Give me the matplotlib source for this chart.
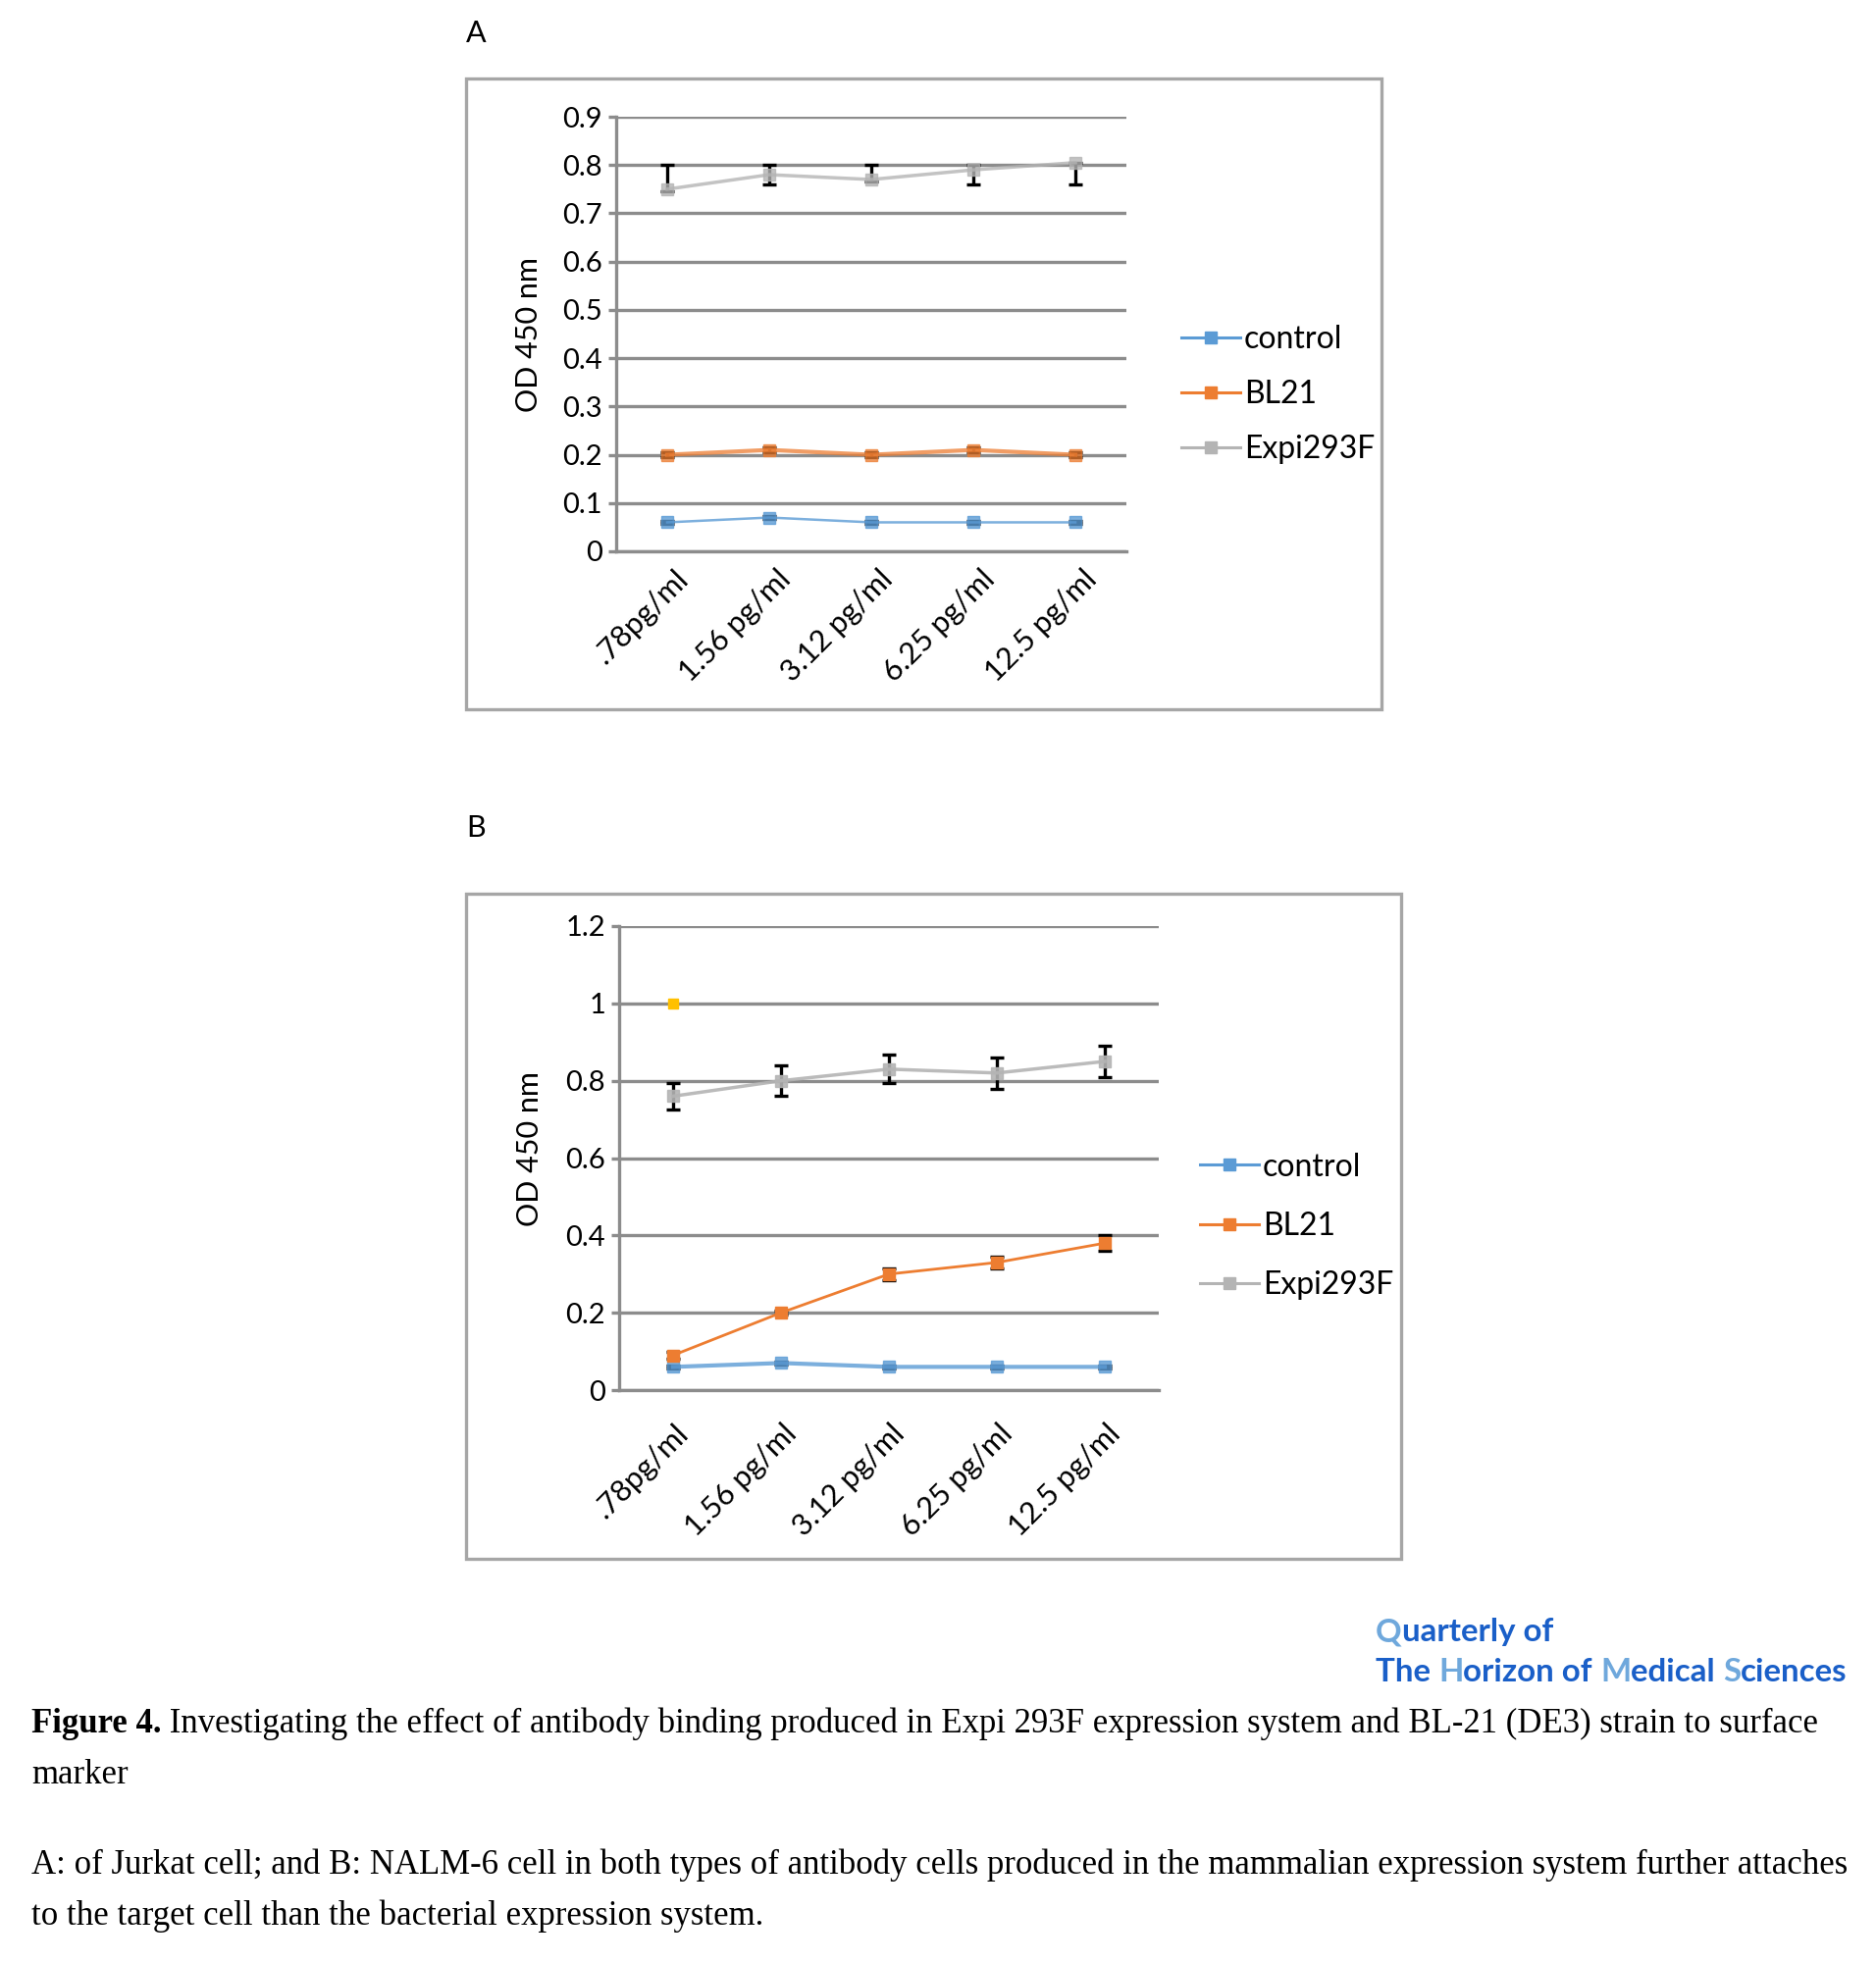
import matplotlib
matplotlib.use("Agg")
import matplotlib.pyplot as plt
from matplotlib.patches import Rectangle
from matplotlib.lines import Line2D
import matplotlib.transforms as mtransforms

# ---------------- data ----------------
categories = [".78pg/ml", "1.56 pg/ml", "3.12 pg/ml", "6.25 pg/ml", "12.5 pg/ml"]
series_names = ["control", "BL21", "Expi293F"]

# Panel A (Jurkat)
A_control = [0.06, 0.07, 0.06, 0.06, 0.06]
A_bl21 = [0.20, 0.21, 0.20, 0.21, 0.20]
A_expi = [0.75, 0.78, 0.77, 0.79, 0.805]
A_control_err = [0.003, 0.003, 0.003, 0.003, 0.003]
A_bl21_err = [0.005, 0.005, 0.005, 0.005, 0.005]
A_expi_err_low = [0.005, 0.02, 0.005, 0.03, 0.045]
A_expi_err_high = [0.05, 0.02, 0.03, 0.01, 0.0]
A_yticks = [0, 0.1, 0.2, 0.3, 0.4, 0.5, 0.6, 0.7, 0.8, 0.9]
A_yticklabels = ["0", "0.1", "0.2", "0.3", "0.4", "0.5", "0.6", "0.7", "0.8", "0.9"]

# Panel B (NALM-6)
B_control = [0.06, 0.07, 0.06, 0.06, 0.06]
B_bl21 = [0.09, 0.20, 0.30, 0.33, 0.38]
B_expi = [0.76, 0.80, 0.83, 0.82, 0.85]
B_control_err = [0.004, 0.004, 0.004, 0.004, 0.004]
B_bl21_err = [0.01, 0.005, 0.015, 0.015, 0.02]
B_expi_err = [0.035, 0.04, 0.037, 0.04, 0.04]
B_stray_x = [0]
B_stray_y = [1.0]
B_yticks = [0, 0.2, 0.4, 0.6, 0.8, 1.0, 1.2]
B_yticklabels = ["0", "0.2", "0.4", "0.6", "0.8", "1", "1.2"]

caption_bold = "Figure 4."
caption_line1 = " Investigating the effect of antibody binding produced in Expi 293F expression system and BL-21 (DE3) strain to surface"
caption_line2 = "marker"
caption_line3 = "A: of Jurkat cell; and B: NALM-6 cell in both types of antibody cells produced in the mammalian expression system further attaches"
caption_line4 = "to the target cell than the bacterial expression system."

logo_line1 = [("Q", "light"), ("uarterly of", "dark")]
logo_line2 = [("The ", "dark"), ("H", "light"), ("orizon of ", "dark"), ("M", "light"),
              ("edical ", "dark"), ("S", "light"), ("ciences", "dark")]

# ---------------- style ----------------
W, H = 1912, 2000
DPI = 100
FONT = "Lato"
C_CTRL = "#5B9BD5"
C_BL = "#ED7D31"
C_EXPI = "#B4B4B4"
C_GRID = "#8C8C8C"
C_BOX = "#A6A6A6"
TICK_FS = 21
LEG_FS = 23

fig = plt.figure(figsize=(W / DPI, H / DPI), dpi=DPI)
fig.patch.set_facecolor("white")


def fx(x):
    return x / W


def fy(y):
    return 1 - y / H


def add_box(x0, y0, x1, y1):
    r = Rectangle((fx(x0), fy(y1)), fx(x1) - fx(x0), fy(y0) - fy(y1),
                  transform=fig.transFigure, fill=False, edgecolor=C_BOX, linewidth=2.4)
    fig.patches.append(r)


def style_axes(ax, yticks, ylabels, ylim, lab_dx, lab_dy):
    ax.set_xlim(-0.5, 4.5)
    ax.set_ylim(*ylim)
    ax.set_yticks(yticks)
    ax.set_yticklabels(ylabels, fontsize=TICK_FS, fontfamily=FONT)
    ax.set_xticks(range(len(categories)))
    ax.set_xticklabels([])
    base = mtransforms.blended_transform_factory(ax.transData, ax.transAxes)
    off = mtransforms.ScaledTranslation(lab_dx / DPI, -lab_dy / DPI, fig.dpi_scale_trans)
    for i, c in enumerate(categories):
        ax.text(i, 0, c, transform=base + off, fontsize=TICK_FS + 1, fontfamily=FONT,
                rotation=45, ha="right", va="top", rotation_mode="anchor")
    ax.tick_params(axis="x", length=0)
    ax.tick_params(axis="y", length=6, width=2.4, color=C_GRID, pad=4)
    for sp in ["top", "right"]:
        ax.spines[sp].set_visible(False)
    ax.spines["left"].set_color(C_GRID)
    ax.spines["left"].set_linewidth(2.4)
    ax.spines["bottom"].set_color(C_GRID)
    ax.spines["bottom"].set_linewidth(2.4)
    ax.grid(axis="y", color=C_GRID, linewidth=2.4)
    ax.set_axisbelow(True)
    ax.set_ylabel("OD 450 nm", fontsize=22, fontfamily=FONT)


def plot_series(ax, x, y, color, yerr, lw=1.8, alpha=1.0, z=3):
    ax.errorbar(x, y, yerr=yerr, fmt="none", ecolor="black", elinewidth=2.4,
                capsize=5, capthick=2.4, zorder=z)
    ax.plot(x, y, color=color, linewidth=lw, marker="s", markersize=8.5,
            markerfacecolor=color, markeredgecolor=color, alpha=alpha, zorder=z + 1)


xs = list(range(len(categories)))

# ---------------- Panel A ----------------
add_box(475, 80, 1408, 723)
fig.text(fx(485), fy(34), "A", fontsize=22, fontfamily=FONT, ha="center", va="center")
axA = fig.add_axes([fx(628), fy(562), fx(1148) - fx(628), fy(119) - fy(562)])
style_axes(axA, A_yticks, A_yticklabels, (0, 0.9), 7, 14)
axA.yaxis.set_label_coords(-0.145, 0.5)
plot_series(axA, xs, A_control, C_CTRL, A_control_err, alpha=0.8)
plot_series(axA, xs, A_bl21, C_BL, A_bl21_err, lw=3.0, alpha=0.75)
plot_series(axA, xs, A_expi, C_EXPI, [A_expi_err_low, A_expi_err_high], lw=2.5, alpha=0.8)

handles = [Line2D([], [], color=c, marker="s", markersize=8, linewidth=2.2)
           for c in [C_CTRL, C_BL, C_EXPI]]
axA.legend(handles, series_names, loc="center left",
           bbox_to_anchor=(fx(1175), fy(402)), bbox_transform=fig.transFigure,
           frameon=False, handlelength=1.9, handletextpad=0.1, labelspacing=0.82,
           prop={"family": FONT, "size": LEG_FS})

# ---------------- Panel B ----------------
add_box(475, 911, 1428, 1589)
fig.text(fx(485), fy(844), "B", fontsize=22, fontfamily=FONT, ha="center", va="center")
axB = fig.add_axes([fx(631), fy(1417), fx(1181) - fx(631), fy(944) - fy(1417)])
style_axes(axB, B_yticks, B_yticklabels, (0, 1.2), 1, 30)
axB.yaxis.set_label_coords(-0.14, 0.52)
plot_series(axB, xs, B_control, C_CTRL, B_control_err, lw=3.0, alpha=0.8)
plot_series(axB, xs, B_bl21, C_BL, B_bl21_err, lw=2.0)
plot_series(axB, xs, B_expi, C_EXPI, B_expi_err, lw=2.5, alpha=0.9)
axB.plot(B_stray_x, B_stray_y, linestyle="none", marker="s", markersize=7,
         color="#FFC000", zorder=5)
axB.legend(handles, series_names, loc="center left",
           bbox_to_anchor=(fx(1194), fy(1250)), bbox_transform=fig.transFigure,
           frameon=False, handlelength=1.9, handletextpad=0.1, labelspacing=0.95,
           prop={"family": FONT, "size": LEG_FS})

# ---------------- logo ----------------
LB = "#6FA8DC"
DB = "#1A5FC8"
fig.canvas.draw()
renderer = fig.canvas.get_renderer()


def draw_segments(x0, y, segs, fs):
    x = x0
    for s, kind in segs:
        t = fig.text(x / W, fy(y), s, fontsize=fs, fontweight="bold", fontfamily=FONT,
                     color=LB if kind == "light" else DB, ha="left", va="center")
        bb = t.get_window_extent(renderer=renderer)
        x = bb.x1


draw_segments(1402, 1664, logo_line1, 23.8)
draw_segments(1402, 1705, logo_line2, 23.8)

# ---------------- caption ----------------
SERIF = "Liberation Serif"
CFS = 25.0
t = fig.text(fx(32), fy(1757), caption_bold, fontsize=CFS, fontweight="bold",
             fontfamily=SERIF, ha="left", va="center")
bb = t.get_window_extent(renderer=renderer)
fig.text(bb.x1 / W, fy(1757), caption_line1, fontsize=CFS, fontfamily=SERIF,
         ha="left", va="center")
fig.text(fx(32), fy(1809), caption_line2, fontsize=CFS, fontfamily=SERIF,
         ha="left", va="center")
fig.text(fx(32), fy(1901), caption_line3, fontsize=CFS, fontfamily=SERIF,
         ha="left", va="center")
fig.text(fx(32), fy(1953), caption_line4, fontsize=CFS, fontfamily=SERIF,
         ha="left", va="center")

fig.savefig("out.png", dpi=DPI, facecolor="white")
